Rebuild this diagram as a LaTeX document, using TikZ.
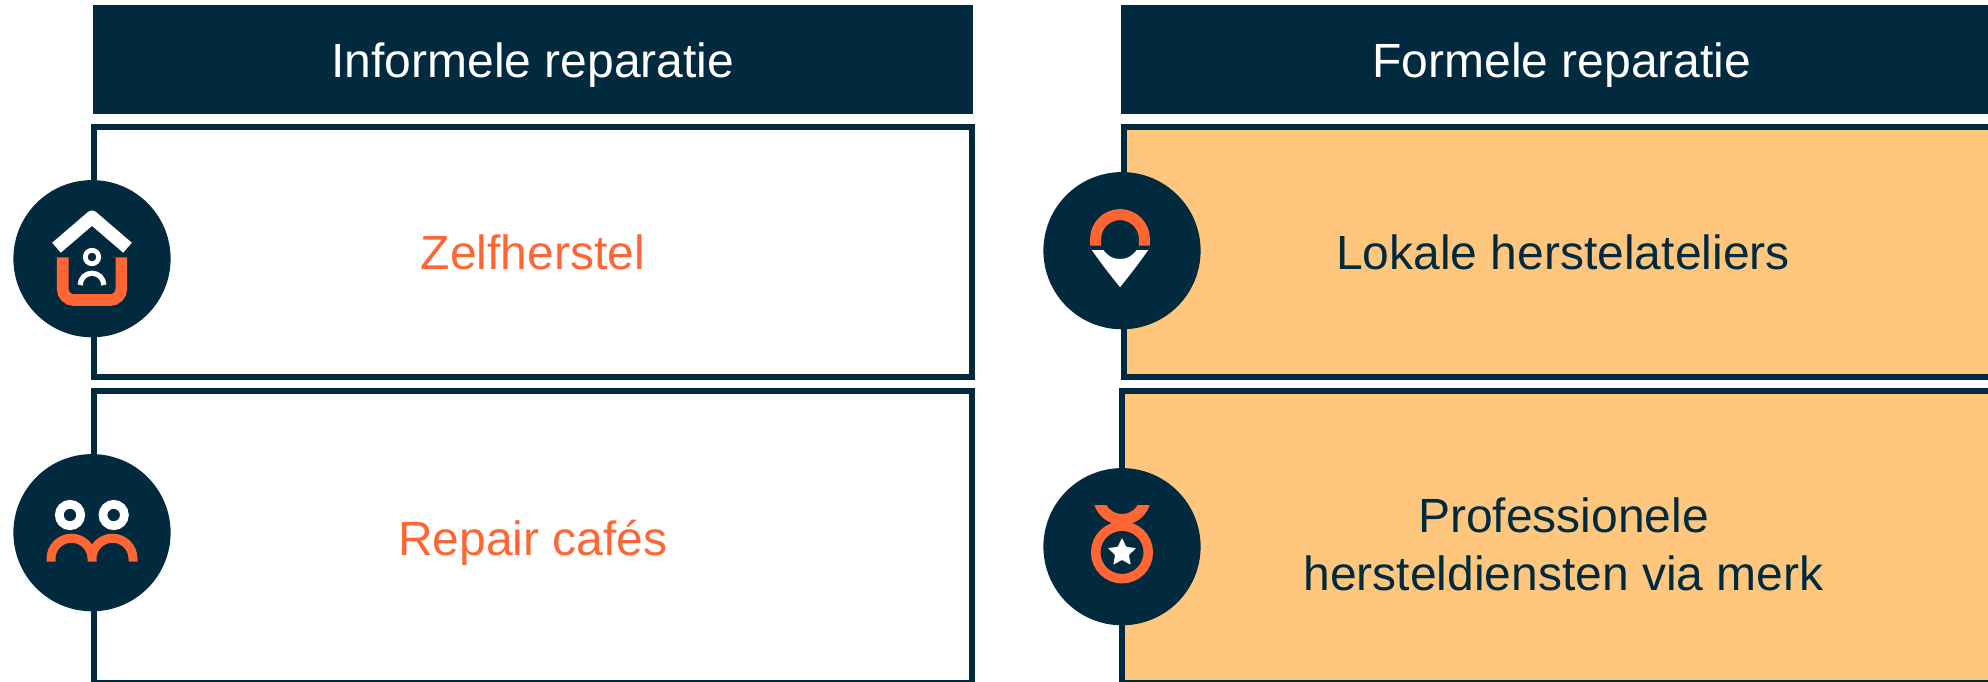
\documentclass[tikz,border=0pt]{standalone}
\usepackage{fontspec}
\setmainfont{Liberation Sans}
\usetikzlibrary{shapes.geometric}
\definecolor{navy}{HTML}{012A3F}
\definecolor{coral}{HTML}{FF6633}
\definecolor{sand}{HTML}{FFC77D}
\tikzset{
  headbox/.style={fill=navy, text=white, inner sep=0pt, minimum width=440pt, minimum height=54.5pt,
    text height=23.4pt, text depth=5pt, font=\fontsize{24}{29}\selectfont},
  panel/.style={draw=navy, line width=3pt, inner sep=0pt, minimum width=439pt, align=center,
    font=\fontsize{24}{29}\selectfont},
  iconball/.style={circle, fill=navy, inner sep=0pt, minimum size=78.6pt},
  iconpart/.style={shift={(#1.center)}, x=0.5pt, y=0.5pt},
  glow/.style={draw=coral, line width=#1},
  pale/.style={draw=white, line width=#1},
}

\begin{document}
\begin{tikzpicture}[x=0.5pt, y=-0.5pt]
  \clip (0,0) rectangle (1988,681);
  % column heads
  \node[headbox] (headinformal) at (533,59.5) {Informele reparatie};
  \node[headbox, minimum width=441.3pt] (headformal) at (1561.8,59.5) {Formele reparatie};
  % panels, the right column runs off the page
  \node[panel, minimum height=125pt, text=coral] (selfrepair) at (533,252) {Zelfherstel};
  \node[panel, minimum height=146pt, text=coral, text height=23.9pt, text depth=5pt] (repaircafe) at (533,537) {Repair cafés};
  \node[panel, minimum height=125pt, fill=sand, text=navy] (localshops) at (1563,252) {Lokale herstelateliers};
  \node[panel, minimum height=146pt, minimum width=441.5pt, fill=sand, text=navy, text height=58pt, text depth=5pt]
    (brandservice) at (1563.5,537) {Professionele\\hersteldiensten via merk};
  % round icons on the panel edges
  \foreach \name/\x/\y in {ballself/92/258.7, ballcafe/92/532.7, ballshop/1122/250.7, ballbrand/1122/546.7}
    \node[iconball] (\name) at (\x,\y) {};
  % house
  \begin{scope}[iconpart=ballself]
    \draw[pale=6.6pt, line join=round] (-35.5,11) -- (0,41.5) -- (35.5,11);
    \draw[glow=5.8pt, rounded corners=5.5pt] (-29.3,1.3) -- (-29.3,-41.3) -- (29.3,-41.3) -- (29.3,1.3);
    \draw[pale=2.4pt] (0,1.7) circle (6.7);
    \draw[pale=2.6pt] (-11.8,-26.3) arc[start angle=180, end angle=0, radius=11.8];
  \end{scope}
  % two people
  \begin{scope}[iconpart=ballcafe]
    \foreach \x in {-22,21.7} \draw[pale=4.35pt] (\x,17.7) circle (10.7);
    \draw[glow=4.5pt] (-41,-29) -- (-41,-26) arc[start angle=180, end angle=0, radius=20.5] -- (0,-29)
      (0,-29) -- (0,-26) arc[start angle=180, end angle=0, radius=20.5] -- (41,-29);
  \end{scope}
  % map pin
  \begin{scope}[iconpart=ballshop]
    \draw[glow=5.5pt] (-26.4,5) -- (-26.4,11.7) arc[start angle=180, end angle=0, radius=24.4] -- (22.4,5);
    \fill[white] (-30.3,0.7) -- (-18.7,0.7) .. controls (-14,-5.5) and (-9,-8.3) .. (-2,-8.3)
      .. controls (5,-8.3) and (10,-5.5) .. (14.7,0.7) -- (26.3,0.7)
      .. controls (15,-15) .. (-2,-36.6) .. controls (-19,-15) .. (-30.3,0.7) -- cycle;
  \end{scope}
  % medal
  \begin{scope}[iconpart=ballbrand]
    \draw[glow=4.75pt] (0,-5.7) circle (26.3);
    \fill[coral] (-27.6,41.7) arc[start angle=198.2, end angle=341.8, radius=29.1] -- (15.6,41.7)
      arc[start angle=329.8, end angle=210.2, radius=18.1] -- cycle;
    \node[star, star points=5, star point ratio=2.1, fill=white, inner sep=0pt, minimum size=15pt,
      rounded corners=0.5pt] (medalstar) at (0,-6) {};
  \end{scope}
\end{tikzpicture}
\end{document}
